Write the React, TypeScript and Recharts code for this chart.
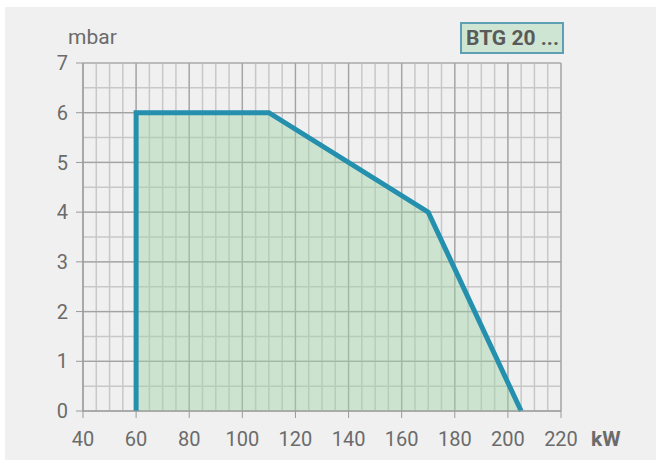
import React from 'react';
import {
  ComposedChart,
  Area,
  XAxis,
  YAxis,
  CartesianGrid,
} from 'recharts';

// working range of the burner (kW vs mbar)
const powerKw = [60, 60, 110, 170, 205];
const pressureMbar = [0, 6, 6, 4, 0];

const xTicks = [40, 60, 80, 100, 120, 140, 160, 180, 200, 220];
const yTicks = [0, 1, 2, 3, 4, 5, 6, 7];

// fine grid: every 5 kW and every 0.5 mbar
const xMinor: number[] = [];
for (let v = 40; v <= 220; v += 5) xMinor.push(v);
const yMinor: number[] = [];
for (let v = 0; v <= 7; v += 0.5) yMinor.push(v);

const chartData = powerKw.map((kw, i) => ({ kw, p: pressureMbar[i] }));

const font = '"Liberation Sans Narrow", Roboto, sans-serif';
const textGrey = '#6b6b6b';

const App: React.FC = () => {
  return (
    <div style={{ position: 'absolute', left: 0, top: 0, width: 657, height: 464, background: '#fff', fontFamily: font }}>
      <div style={{ position: 'absolute', left: 5, top: 7, width: 651, height: 453, background: '#f0f0f0' }} />
      <div style={{ position: 'absolute', left: 0, top: 0 }}>
        <ComposedChart
          width={657}
          height={464}
          data={chartData}
          margin={{ top: 63, right: 96, bottom: 13, left: 43 }}
        >
          <CartesianGrid xAxisId="minor" yAxisId="minor" stroke="#c8c8c8" strokeWidth={1.5} />
          <CartesianGrid stroke="#a3a3a3" strokeWidth={1.2} />
          <XAxis xAxisId="minor" dataKey="kw" type="number" domain={[40, 220]} ticks={xMinor} interval={0} hide />
          <YAxis
            yAxisId="minor"
            dataKey="p"
            type="number"
            domain={[0, 7]}
            ticks={yMinor}
            interval={0}
            allowDecimals
            allowDataOverflow
            hide
          />
          <XAxis
            dataKey="kw"
            type="number"
            domain={[40, 220]}
            ticks={xTicks}
            interval={0}
            allowDataOverflow
            height={40}
            tickSize={7}
            tickMargin={14}
            stroke="#9a9a9a"
            tick={{ fontSize: 20, fill: textGrey, fontFamily: font }}
          />
          <YAxis
            type="number"
            domain={[0, 7]}
            ticks={yTicks}
            interval={0}
            width={40}
            tickSize={7}
            tickMargin={8}
            stroke="#9a9a9a"
            tick={{ fontSize: 20, fill: textGrey, fontFamily: font }}
          />
          <Area
            type="linear"
            dataKey="p"
            stroke="#2590ae"
            strokeWidth={5}
            fill="#9fd2a9"
            fillOpacity={0.45}
            strokeLinejoin="miter"
            dot={false}
            activeDot={false}
            isAnimationActive={false}
          />
        </ComposedChart>
      </div>
      <div style={{ position: 'absolute', left: 68, top: 25, fontSize: 21, color: textGrey }}>mbar</div>
      <div style={{ position: 'absolute', left: 591, top: 427, fontSize: 21, fontWeight: 700, color: textGrey }}>kW</div>
      <div
        style={{
          position: 'absolute',
          left: 460,
          top: 22,
          width: 96,
          height: 28,
          background: '#cfe5d3',
          border: '2px solid #5f9fb4',
          fontSize: 21,
          fontWeight: 700,
          color: '#5a5a5a',
          lineHeight: '29px',
          paddingLeft: 4,
          boxSizing: 'content-box',
        }}
      >
        BTG 20 ...
      </div>
    </div>
  );
};

export default App;
